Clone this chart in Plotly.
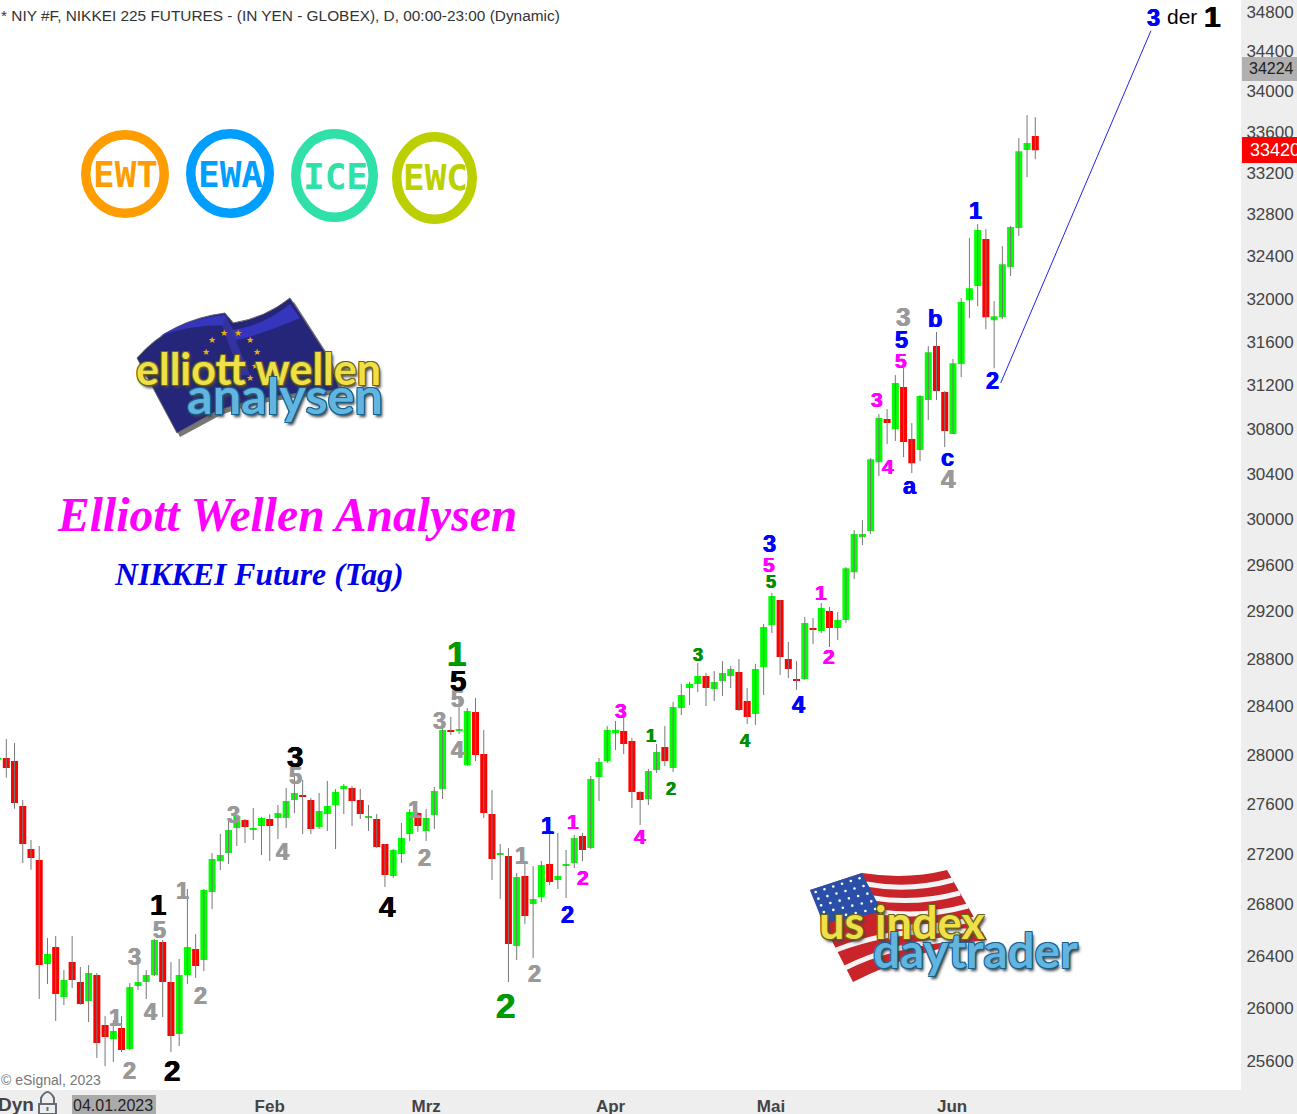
"""NIKKEI 225 future, daily candles with Elliott wave counts"""

import math
import plotly.graph_objects as go

PLOT_W = 1241
PLOT_H = 1090

opens = [
    27960, 27974, 27949, 27584, 27239, 27151, 26337, 26469, 26084, 26352,
    26199, 26054, 26253, 25871, 25766, 25849, 25690, 26169, 26199, 26253,
    26508, 26199, 25804, 26253, 26453, 26368, 26899, 27143, 27207, 27407,
    27471, 27391, 27423, 27479, 27487, 27487, 27632, 27673, 27632, 27415,
    27519, 27592, 27722, 27730, 27632, 27487, 27479, 27279, 27025, 27199,
    27359, 27527, 27383, 27511, 27722, 28204, 28196, 27917, 28353, 28007,
    27519, 27191, 27183, 26477, 27025, 26804, 26860, 27119, 26993, 27104,
    27127, 27343, 27247, 27819, 27949, 28179, 28196, 28114, 27697, 27640,
    27876, 28064, 27892, 28386, 28553, 28587, 28654, 28545, 28612, 28654,
    28687, 28445, 28336, 28729, 29084, 29298, 28796, 28629, 28629, 29059,
    29033, 29203, 29059, 29127, 29538, 29843, 29895, 30504, 30891, 30801,
    31182, 30711, 30612, 31063, 31558, 31136, 30756, 31392, 31985, 32117,
    32562, 31798, 31826, 32296, 32667, 33421, 33559,
]
highs = [
    27985, 28130, 28097, 27632, 27311, 27263, 26539, 26554, 26291, 26554,
    26314, 26329, 26268, 25939, 25909, 25939, 26191, 26422, 26291, 26531,
    26523, 26352, 26376, 26922, 26570, 26922, 27207, 27359, 27463, 27511,
    27479, 27567, 27495, 27519, 27592, 27730, 27835, 27795, 27649, 27689,
    27787, 27722, 27762, 27746, 27722, 27592, 27519, 27279, 27239, 27447,
    27559, 27535, 27559, 27738, 28221, 28312, 28470, 28386, 28470, 28204,
    27714, 27279, 27247, 27048, 27143, 27104, 27143, 27359, 27367, 27231,
    27351, 27367, 27827, 27974, 28237, 28279, 28312, 28139, 27705, 27884,
    28089, 28237, 28436, 28587, 28604, 28762, 28679, 28695, 28779, 28737,
    28796, 28553, 28754, 29093, 29358, 29298, 28940, 28779, 29152, 29144,
    29272, 29237, 29195, 29581, 29904, 29991, 30540, 30936, 30981, 31291,
    31355, 30855, 31109, 31558, 31688, 31145, 31438, 32004, 32571, 32705,
    32657, 31976, 32495, 32686, 33539, 33765, 33745,
]
lows = [
    27950, 27813, 27562, 27127, 27074, 26069, 26184, 25902, 26023, 26153,
    26025, 25894, 25623, 25562, 25592, 25668, 25683, 26138, 26069, 26245,
    25932, 25668, 25713, 26184, 26230, 26283, 26765, 27072, 27119, 27263,
    27287, 27311, 27191, 27143, 27319, 27407, 27527, 27359, 27359, 27399,
    27383, 27239, 27519, 27423, 27479, 27383, 27247, 26938, 27009, 27127,
    27303, 27375, 27303, 27399, 27640, 28163, 28171, 27908, 27949, 27487,
    26993, 26844, 26199, 26368, 26648, 26383, 26820, 26954, 26922, 26851,
    27088, 27143, 27239, 27624, 27933, 28040, 28007, 27567, 27431, 27592,
    27852, 27908, 27860, 28328, 28411, 28520, 28403, 28445, 28487, 28553,
    28361, 28254, 28246, 28495, 29016, 28662, 28637, 28537, 28620, 28923,
    29016, 28898, 28957, 29101, 29478, 29773, 29870, 30380, 30666, 30693,
    30549, 30407, 30513, 30882, 31063, 30639, 30756, 31273, 31817, 31929,
    31715, 31354, 31808, 32211, 32591, 33158, 33332,
]
closes = [
    27976, 27892, 27608, 27279, 27167, 26329, 26414, 26107, 26214, 26214,
    26031, 26268, 25736, 25781, 25826, 25683, 26161, 26199, 26253, 26523,
    26199, 25788, 26253, 26469, 26322, 26914, 27159, 27191, 27391, 27503,
    27415, 27407, 27487, 27423, 27527, 27624, 27689, 27657, 27399, 27543,
    27584, 27697, 27746, 27624, 27519, 27503, 27255, 27033, 27231, 27327,
    27535, 27423, 27487, 27705, 28204, 28188, 28213, 28361, 27998, 27527,
    27159, 27207, 26492, 27017, 26710, 26844, 27112, 26977, 27025, 27119,
    27327, 27231, 27803, 27941, 28204, 28204, 28089, 27697, 27632, 27868,
    28023, 27949, 28394, 28495, 28587, 28654, 28553, 28604, 28679, 28712,
    28369, 28312, 28712, 29067, 29332, 28813, 28712, 28612, 29101, 29042,
    29229, 29059, 29127, 29572, 29870, 29870, 30531, 30900, 30855, 31218,
    30684, 30495, 31100, 31502, 31145, 30783, 31401, 31967, 32098, 32648,
    31826, 31836, 32324, 32677, 33411, 33490, 33420,
]

price_ticks = [25600, 26000, 26400, 26800, 27200, 27600, 28000, 28400, 28800, 29200, 29600, 30000,
               30400, 30800, 31200, 31600, 32000, 32400, 32800, 33200, 33600, 34000, 34400, 34800]
month_names = ["Feb", "Mrz", "Apr", "Mai", "Jun"]
month_bars = [33, 52, 74.4, 93.9, 115.9]

target_bars = [121.8, 140.05]
target_prices = [31219, 34610]

grey_waves = [("1", 115, 1018), ("2", 129, 1071), ("3", 134, 957), ("4", 150, 1012), ("5", 159, 930),
              ("1", 182, 891), ("2", 200, 996), ("3", 233, 815), ("5", 295, 776), ("4", 282, 852),
              ("1", 414, 810), ("2", 424, 858), ("3", 440, 721), ("4", 458, 750), ("5", 458, 699),
              ("1", 521, 856), ("2", 534, 974), ("3", 903, 317), ("4", 949, 479)]
black_waves = [("1", 158, 904), ("2", 172, 1070), ("3", 295, 756), ("4", 388, 906), ("5", 458, 680)]
green_big = [("1", 457, 653), ("2", 505, 1005)]
green_small = [("1", 651, 736), ("2", 671, 789), ("3", 698, 655), ("4", 745, 741), ("5", 771, 582)]
pink_waves = [("1", 573, 821), ("2", 583, 877), ("3", 621, 710), ("4", 640, 836), ("5", 769, 564),
              ("1", 821, 592), ("2", 829, 656), ("3", 877, 399), ("4", 888, 467), ("5", 901, 360)]
blue_waves = [("1", 547, 826), ("2", 567, 915), ("3", 769, 544), ("4", 798, 705), ("a", 910, 486),
              ("b", 935, 319), ("c", 947, 458), ("5", 901, 340), ("1", 975, 211), ("2", 992, 381)]

annotations = []
shapes = []


def xp(x):
    return x / PLOT_W


def yp(y):
    return 1 - y / PLOT_H


def note(text, x, y, color, size, family="Liberation Sans", bold=False, anchor="center", **font):
    annotations.append(dict(text=text, xref="paper", yref="paper", x=xp(x), y=yp(y), xanchor=anchor,
                            yanchor="middle", showarrow=False,
                            font=dict(family=family, size=size, color=color,
                                      weight="bold" if bold else "normal", **font)))


def wave(text, x, y, color, size):
    # the original labels are drawn fatter than plain bold
    note(text, x, y, color, size, bold=True, shadow="0.6px 0 0 {0}, -0.6px 0 0 {0}".format(color))


def path(d, fill=None, line=None, width=0):
    """d is a list of (command, x, y, ...) in page pixels"""
    parts = []
    for seg in d:
        nums = seg[1:]
        pts = " ".join("{:.5f},{:.5f}".format(xp(nums[i]), yp(nums[i + 1])) for i in range(0, len(nums), 2))
        parts.append(seg[0] + pts)
    shapes.append(dict(type="path", xref="paper", yref="paper", path=" ".join(parts),
                       fillcolor=fill or "rgba(0,0,0,0)", line=dict(color=line or "rgba(0,0,0,0)", width=width)))


def box(x0, y0, x1, y1, fill):
    shapes.append(dict(type="rect", xref="paper", yref="paper", x0=xp(x0), y0=yp(y0), x1=xp(x1), y1=yp(y1),
                       fillcolor=fill, line=dict(width=0)))


def ring(x0, y0, x1, y1, color, width=9.5):
    shapes.append(dict(type="circle", xref="paper", yref="paper", x0=xp(x0 + width / 2), y0=yp(y0 + width / 2),
                       x1=xp(x1 - width / 2), y1=yp(y1 - width / 2), line=dict(color=color, width=width)))


def outline(dark, glow="#444"):
    return ("-1px -1px 0 {0}, 1px -1px 0 {0}, -1px 1px 0 {0}, 1px 1px 0 {0}, "
            "2px 3px 3px {1}").format(dark, glow)


# wave counts
for t, x, y in grey_waves[:-2]:
    wave(t, x, y, "#999999", 23.5)
for t, x, y in grey_waves[-2:]:
    wave(t, x, y, "#999999", 26)
for t, x, y in black_waves:
    wave(t, x, y, "#000000", 29.5)
for t, x, y in green_big:
    wave(t, x, y, "#009a00", 35)
for t, x, y in green_small:
    wave(t, x, y, "#008f00", 18)
for t, x, y in pink_waves:
    wave(t, x, y, "#ff00ff", 21)
for t, x, y in blue_waves:
    wave(t, x, y, "#0000ff", 23.5)

wave("3", 1153, 18, "#0000ff", 23.5)
note("der", 1182, 17, "#000000", 21)
wave("1", 1212, 17, "#000000", 30)

# headings
note("* NIY #F, NIKKEI 225 FUTURES - (IN YEN - GLOBEX), D, 00:00-23:00 (Dynamic)", -1, 15, "#333333", 15.4,
     anchor="left")
note("<i>Elliott Wellen Analysen</i>", 287, 515, "#ff00ff", 47.6, family="Liberation Serif", bold=True)
note("<i>NIKKEI Future (Tag)</i>", 259, 574, "#0000e6", 31.8, family="Liberation Serif", bold=True)
note("© eSignal, 2023", -1, 1080, "#777777", 14, anchor="left")

# round badges
for x0, y0, x1, y1, color, word, cx, cy in [
    (81, 130, 169, 218, "#ff9d00", "EWT", 125, 174),
    (186, 129, 274, 218, "#009fff", "EWA", 230, 174),
    (291, 129, 378, 222, "#2fe0a8", "ICE", 335, 176),
    (392, 132, 477, 224, "#bccf00", "EWC", 435, 178),
]:
    ring(x0, y0, x1, y1, color)
    note(word, cx, cy, color, 36, family="DejaVu Sans Mono", bold=True)

# elliott wellen logo
path([("M", 141, 361), ("Q", 174, 325, 229, 317), ("L", 237, 327), ("Q", 269, 322, 294, 302), ("L", 330, 358),
      ("L", 345, 394), ("Q", 260, 398, 219, 416), ("L", 180, 437), ("Z",)], fill="#777777")
path([("M", 137, 358), ("Q", 170, 320, 225, 313), ("L", 233, 323), ("Q", 265, 318, 290, 298), ("L", 325, 352),
      ("L", 340, 390), ("Q", 260, 394, 215, 412), ("L", 177, 433), ("Z",)], fill="#25257a", line="#666666", width=1)
path([("M", 160, 336), ("Q", 190, 318, 225, 315), ("L", 233, 330), ("Q", 265, 325, 290, 304), ("L", 300, 318),
      ("Q", 260, 335, 236, 340), ("L", 225, 325), ("Q", 190, 325, 160, 336), ("Z",)], fill="#3636bd")
path([("M", 226, 316), ("L", 250, 375), ("L", 240, 375), ("L", 222, 325), ("Z",)], fill="#33339f")
for x, y in [(212, 340), (224, 333), (238, 333), (250, 340), (257, 352), (255, 366), (250, 378), (206, 352)]:
    note("★", x, y, "#f0b000", 9, family="DejaVu Sans")
note("elliott wellen", 258, 368, "#efe04a", 43, family="Lato", bold=True, shadow=outline("#6b6410"))
note("analysen", 285, 395, "#63b4df", 50.5, family="Lato", bold=True, shadow=outline("#16628f"))

# us index daytrader logo
path([("M", 810, 890), ("L", 862, 873), ("Q", 907, 880, 947, 870), ("L", 987, 940), ("Q", 923, 947, 853, 982),
      ("L", 833, 943), ("Z",)], fill="#c8242a")
for d in [[("M", 866, 884), ("Q", 910, 892, 953, 880)], [("M", 873, 898), ("Q", 916, 905, 960, 893)],
          [("M", 880, 912), ("Q", 925, 918, 968, 906)], [("M", 890, 926), ("Q", 930, 930, 975, 919)],
          [("M", 836, 950), ("Q", 900, 925, 982, 932)], [("M", 845, 968), ("Q", 890, 945, 960, 938)]]:
    path(d, line="#f4f4f4", width=5)
path([("M", 810, 890), ("L", 862, 873), ("L", 882, 912), ("L", 823, 923), ("Z",)], fill="#2a4fa8")
for i in range(6):
    for j in range(5):
        u, v = (i + 0.5) / 6, (j + 0.5) / 5
        sx = 810 + 52 * u + (13 + 7 * u) * v
        sy = 890 - 17 * u + (33 + 6 * u) * v
        shapes.append(dict(type="circle", xref="paper", yref="paper", x0=xp(sx - 1.3), y0=yp(sy - 1.3),
                           x1=xp(sx + 1.3), y1=yp(sy + 1.3), fillcolor="#ffffff", line=dict(width=0)))
note("us index", 902, 922, "#efe04a", 45, family="Lato", bold=True, shadow=outline("#6b6410"))
note("daytrader", 975, 949, "#63b4df", 47.5, family="Lato", bold=True, shadow=outline("#16628f"))

# price and date boxes in the axis bands
box(1242, 57, 1297, 81, "#b0b0b0")
note("34224", 1247, 69, "#222222", 16, anchor="left")
box(1242, 137, 1297, 163, "#ff0000")
note("33420", 1248, 150, "#ffffff", 18, anchor="left")
box(72, 1095, 156, 1114, "#aaaaaa")
note("04.01.2023", 113, 1105, "#222222", 16)
note("Dyn", -4, 1104, "#444444", 19, bold=True, anchor="left")

# lock icon
box(39, 1104, 56, 1114, "rgba(0,0,0,0)")
shapes[-1]["line"] = dict(color="#666b75", width=2)
path([("M", 41, 1104), ("L", 41, 1098), ("Q", 47.5, 1086, 54, 1098), ("L", 54, 1104)], line="#666b75", width=2)
path([("M", 47.5, 1107), ("L", 47.5, 1111)], line="#666b75", width=2)

bars = list(range(len(opens)))

fig = go.Figure()
fig.add_trace(go.Ohlc(x=bars, open=opens, high=highs, low=lows, close=closes, tickwidth=0, hoverinfo="skip",
                      increasing=dict(line=dict(color="#777777", width=1)),
                      decreasing=dict(line=dict(color="#777777", width=1))))
fig.add_trace(go.Candlestick(x=bars, open=opens, high=highs, low=lows, close=closes, whiskerwidth=0,
                             increasing=dict(fillcolor="#00ff00", line=dict(color="#00ff00", width=0)),
                             decreasing=dict(fillcolor="#ff0000", line=dict(color="#ff0000", width=0))))
fig.add_trace(go.Scatter(x=target_bars, y=target_prices, mode="lines", line=dict(color="#2222ee", width=1)))

fig.update_layout(
    width=1297, height=1114, autosize=False, showlegend=False, boxgap=0, boxgroupgap=0.15,
    margin=dict(l=0, r=1297 - PLOT_W, t=0, b=1114 - PLOT_H, pad=0),
    paper_bgcolor="#eeeeee", plot_bgcolor="#ffffff",
    annotations=annotations, shapes=shapes,
    font=dict(family="Liberation Sans", color="#444444"),
    xaxis=dict(range=[0.235, 150.99], rangeslider=dict(visible=False), showgrid=False, zeroline=False,
               automargin=False, tickmode="array", tickvals=month_bars,
               ticktext=["<b>%s</b>" % m for m in month_names],
               tickfont=dict(size=17, color="#444444"), ticks="outside", ticklen=1, tickcolor="#eeeeee",
               showline=False),
    yaxis=dict(type="log", side="right", range=[math.log10(25384), math.log10(34922)], showgrid=False,
               automargin=False, tickmode="array", tickvals=price_ticks, ticktext=[str(p) for p in price_ticks],
               tickfont=dict(size=17, color="#444444"), ticks="outside", ticklen=1, tickcolor="#eeeeee",
               showline=False, zeroline=False),
)

fig.write_html("out.html", config={"displayModeBar": False}, post_script="document.body.style.margin='0';")
